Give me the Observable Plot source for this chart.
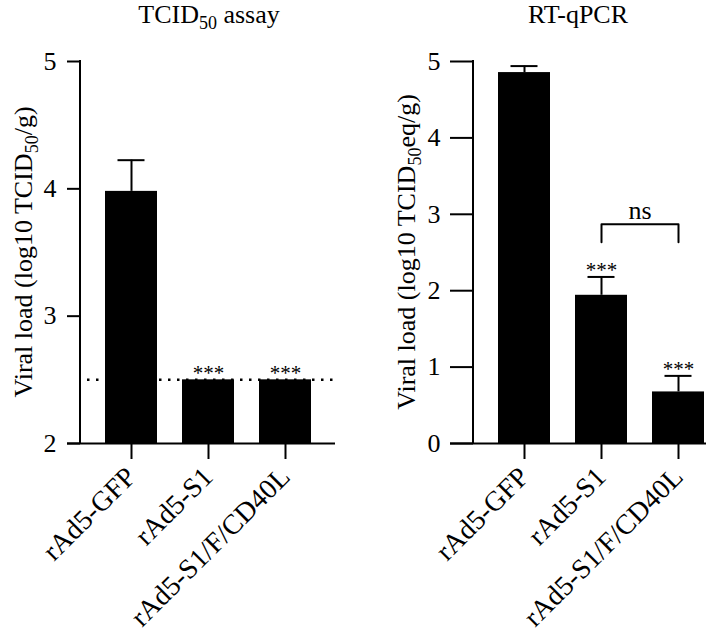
<!DOCTYPE html>
<html><head><meta charset="utf-8">
<script src="https://cdn.jsdelivr.net/npm/d3@7"></script>
<script src="https://cdn.jsdelivr.net/npm/@observablehq/plot@0.6"></script>
<style>
body{margin:0;background:#fff;font-family:"Liberation Serif",serif;}
#wrap{position:relative;width:706px;height:634px;overflow:hidden;background:#fff;}
.panel{position:absolute;top:0;height:634px;overflow:hidden;}
.panel svg{max-width:none !important;}
</style></head><body>
<div id="wrap">
  <div class="panel" id="p1" style="left:0;width:360px"></div>
  <div class="panel" id="p2" style="left:360px;width:346px"></div>
</div>
<script>
// ---- data ----
const groups = ["rAd5-GFP", "rAd5-S1", "rAd5-S1/F/CD40L"];
const tcidMean = [3.98, 2.5, 2.5];
const tcidSem = [0.245, 0, 0];
const tcidStars = ["", "***", "***"];
const tcidTicks = [2, 3, 4, 5];
const tcidDomain = [2, 5];
const detectionLimit = [2.5];

const pcrMean = [4.855, 1.94, 0.675];
const pcrSem = [0.085, 0.24, 0.21];
const pcrStars = ["", "***", "***"];
const pcrTicks = [0, 1, 2, 3, 4, 5];
const pcrDomain = [0, 5];
const nsGroups = ["rAd5-S1", "rAd5-S1/F/CD40L"];
const nsTop = 2.87, nsBottom = 2.635;
const nsLabel = "ns";

const FONT = "Liberation Serif";

function rows(mean, sem, stars) {
  return groups.map((g, i) => ({group: g, mean: mean[i], top: mean[i] + sem[i], star: stars[i], hasErr: sem[i] > 0}));
}

function addRich(s, parts, attrs) {
  const t = s.append("text").attr("font-size", 26).attr("font-family", FONT).attr("fill", "black").attr("text-anchor", "middle");
  Object.entries(attrs).forEach(([k, v]) => t.attr(k, v));
  let lowered = false;
  parts.forEach(([txt, sub]) => {
    const ts = t.append("tspan").text(txt);
    if (sub) { ts.attr("font-size", 18).attr("dy", 6); lowered = true; }
    else if (lowered) { ts.attr("dy", -6); lowered = false; }
  });
}

function makePanel(o) {
  const data = rows(o.mean, o.sem, o.stars);
  const marks = [
    Plot.barY(data, {x: "group", y1: () => o.domain[0], y2: "mean", fill: "black"}),
    Plot.ruleX(data.filter(d => d.hasErr), {x: "group", y1: "mean", y2: "top", strokeWidth: 2}),
    Plot.tickY(data.filter(d => d.hasErr), {x: "group", y: "top", strokeWidth: 2, insetLeft: 12.5, insetRight: 12.5}),
    Plot.text(data, {x: "group", y: "top", text: "star", fontSize: 21, dy: -7, fill: "black"}),
    Plot.ruleY([o.domain[0]], {strokeWidth: 2, insetLeft: -o.yTickSize}),
    Plot.axisY(o.ticks, {tickSize: o.yTickSize, tickPadding: o.yTickPadding, strokeWidth: 2, fontSize: 26, label: null, tickFormat: d => String(d)}),
    Plot.axisX({tickSize: 16, strokeWidth: 2, label: null, tickFormat: () => ""}),
    Plot.text(groups, {x: d => d, frameAnchor: "bottom", text: d => d, rotate: -45, textAnchor: "end", fontSize: 28, dx: 6, dy: 35, fill: "black"})
  ].concat(o.extra || []);
  const svg = Plot.plot({
    width: o.width, height: 634,
    marginLeft: o.marginLeft, marginRight: 25, marginTop: 61, marginBottom: 191,
    style: {fontFamily: FONT, color: "black", background: "white", overflow: "visible", maxWidth: "none"},
    x: {domain: groups, paddingInner: 0.325, paddingOuter: 0.318},
    y: {domain: o.domain},
    marks
  });
  const s = d3.select(svg);
  // y axis line, from the library's y scale
  const yr = svg.scale("y").range;
  s.append("line").attr("x1", o.marginLeft).attr("x2", o.marginLeft)
    .attr("y1", Math.min(...yr) - 1).attr("y2", Math.max(...yr) + 1)
    .attr("stroke", "black").attr("stroke-width", 2);
  addRich(s, o.title, {x: o.titleX, y: 23});
  addRich(s, o.ylabel, {transform: `translate(${o.ylabelX},252) rotate(-90)`});
  return svg;
}

document.getElementById("p1").append(makePanel({
  mean: tcidMean, sem: tcidSem, stars: tcidStars, domain: tcidDomain, ticks: tcidTicks,
  width: 360, marginLeft: 80, yTickSize: 13, yTickPadding: 11,
  extra: [Plot.ruleY(detectionLimit, {strokeWidth: 2.5, strokeDasharray: "2.5,6.5", insetLeft: 7})],
  title: [["TCID"], ["50", true], [" assay"]], titleX: 209,
  ylabel: [["Viral load (log10 TCID"], ["50", true], ["/g)"]], ylabelX: 32
}));

const nsLine = [
  {group: nsGroups[0], v: nsBottom}, {group: nsGroups[0], v: nsTop},
  {group: nsGroups[1], v: nsTop}, {group: nsGroups[1], v: nsBottom}
];
document.getElementById("p2").append(makePanel({
  mean: pcrMean, sem: pcrSem, stars: pcrStars, domain: pcrDomain, ticks: pcrTicks,
  width: 393, marginLeft: 113, yTickSize: 23, yTickPadding: 10,
  extra: [
    Plot.line(nsLine, {x: "group", y: "v", strokeWidth: 2, stroke: "black"}),
    Plot.text([nsLabel], {x: () => nsGroups[0], y: () => nsTop, text: d => d, fontSize: 26, dy: -14, dx: 38.5, fill: "black"})
  ],
  title: [["RT-qPCR"]], titleX: 218,
  ylabel: [["Viral load (log10 TCID"], ["50", true], ["eq/g)"]], ylabelX: 55
}));
</script>
</body></html>
